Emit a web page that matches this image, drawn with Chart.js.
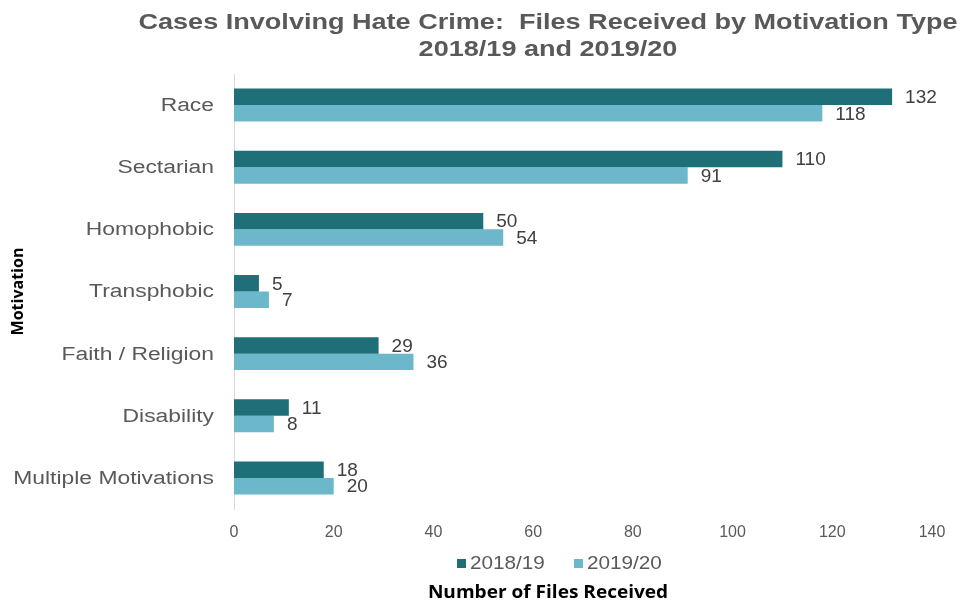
<!DOCTYPE html>
<html>
<head>
<meta charset="utf-8">
<script src="https://cdn.jsdelivr.net/npm/chart.js@4.4.1/dist/chart.umd.min.js"></script>
<style>
  html, body { margin: 0; padding: 0; background: #fff; }
  #wrap { width: 965px; height: 603px; position: relative; }
</style>
</head>
<body>
<div id="wrap"><canvas id="hateChart"></canvas></div>
<script>
const motivations = ['Race', 'Sectarian', 'Homophobic ', 'Transphobic', 'Faith / Religion', 'Disability', 'Multiple Motivations'];
const files2018 = [132, 110, 50, 5, 29, 11, 18];
const files2019 = [118, 91, 54, 7, 36, 8, 20];
const seriesNames = ['2018/19', '2019/20'];
const xTicks = [0, 20, 40, 60, 80, 100, 120, 140];

const titleLines = ['Cases Involving Hate Crime:  Files Received by Motivation Type', '2018/19 and 2019/20'];
const xTitle = 'Number of Files Received';
const yTitle = 'Motivation';

const darkTeal = '#1F6F79';
const lightTeal = '#6CB8CA';

// text drawn wider than the font, like the stretched original
function wideText(c, text, x, y, sx) {
    c.save();
    c.translate(x, y);
    c.scale(sx, 1);
    c.fillText(text, 0, 0);
    c.restore();
}

// Draws category labels, value labels, title, legend and x title
const extrasPlugin = {
    id: 'extras',
    afterDatasetsDraw(chart) {
        const c = chart.ctx;
        c.save();
        c.font = '19px "Liberation Sans", Arial, sans-serif';
        c.fillStyle = '#404040';
        c.textBaseline = 'middle';
        c.textAlign = 'left';
        chart.data.datasets.forEach((ds, i) => {
            chart.getDatasetMeta(i).data.forEach((bar, j) => {
                c.fillText(String(ds.data[j]), bar.x + 13, bar.y + 1);
            });
        });

        // category labels (y axis)
        const yScale = chart.scales.y;
        c.font = '18px "Liberation Sans", Arial, sans-serif';
        c.fillStyle = '#595959';
        c.textAlign = 'right';
        motivations.forEach((m, i) => {
            wideText(c, m.trim(), yScale.right - 20, yScale.getPixelForTick(i) + 1, 1.27);
        });
        c.restore();
    },
    afterDraw(chart) {
        const c = chart.ctx;
        const cx = 548;
        c.save();
        // title
        c.fillStyle = '#595959';
        c.font = 'bold 22px "Liberation Sans", Arial, sans-serif';
        c.textAlign = 'center';
        c.textBaseline = 'middle';
        wideText(c, titleLines[0], cx, 23, 1.23);
        wideText(c, titleLines[1], cx, 50, 1.23);

        // legend
        c.font = '19px "Liberation Sans", Arial, sans-serif';
        c.textAlign = 'left';
        const colors = [darkTeal, lightTeal];
        const starts = [457, 574];
        seriesNames.forEach((n, i) => {
            c.fillStyle = colors[i];
            c.fillRect(starts[i], 559, 9, 9);
            c.fillStyle = '#595959';
            wideText(c, n, starts[i] + 13, 564, 1.09);
        });

        // x axis title
        c.fillStyle = '#000';
        c.font = 'bold 17px "Open Sans", sans-serif';
        c.textAlign = 'center';
        wideText(c, xTitle, cx, 593, 1.12);
        c.restore();
    }
};

const ctx = document.getElementById('hateChart').getContext('2d');

const hateChart = new Chart(ctx, {
    type: 'bar',
    data: {
        labels: motivations,
        datasets: [
            { label: seriesNames[0], data: files2018, backgroundColor: darkTeal },
            { label: seriesNames[1], data: files2019, backgroundColor: lightTeal }
        ]
    },
    options: {
        indexAxis: 'y',
        responsive: true,
        maintainAspectRatio: false,
        animation: false,
        layout: { padding: { top: 74, right: 33, bottom: 0, left: 0 } },
        datasets: { bar: { categoryPercentage: 0.53, barPercentage: 1 } },
        plugins: {
            legend: { display: false },
            title: { display: false },
            tooltip: { enabled: false }
        },
        scales: {
            x: {
                min: 0,
                max: 140,
                afterFit: (s) => { s.height = 94; },
                afterBuildTicks: (s) => { s.ticks = xTicks.map(v => ({ value: v })); },
                grid: { display: false },
                border: { display: false },
                ticks: {
                    color: '#595959',
                    padding: 6,
                    font: { size: 16, family: '"Liberation Sans Narrow", "Liberation Sans", Arial, sans-serif' }
                }
            },
            y: {
                afterFit: (s) => { s.width = 234; },
                grid: { display: false },
                border: { display: true, color: '#D9D9D9', width: 1 },
                title: {
                    display: true,
                    text: yTitle,
                    color: '#000',
                    padding: { top: 9, bottom: 0 },
                    font: { size: 16, weight: 'bold', family: '"Open Sans", sans-serif' }
                },
                ticks: { display: false }
            }
        }
    },
    plugins: [extrasPlugin]
});
</script>
</body>
</html>
